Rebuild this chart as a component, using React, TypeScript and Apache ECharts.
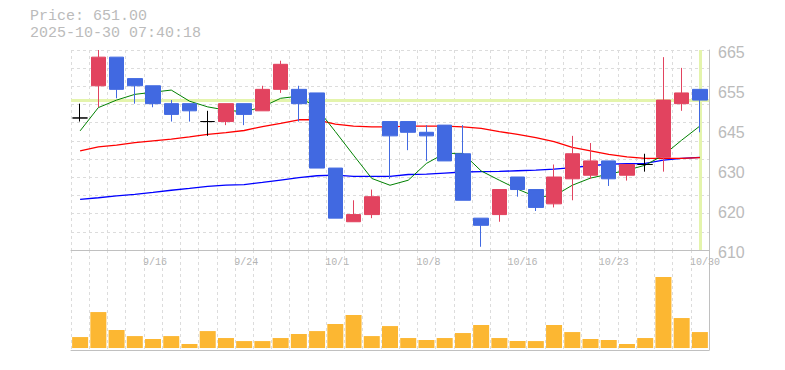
import React, { useEffect, useRef } from "react";
import * as echarts from "echarts";

const dates = ["9/9","9/10","9/11","9/12","9/16","9/17","9/18","9/19","9/22","9/24","9/25","9/26","9/29","9/30","10/1","10/2","10/3","10/6","10/7","10/8","10/9","10/10","10/14","10/15","10/16","10/17","10/20","10/21","10/22","10/23","10/24","10/27","10/28","10/29","10/30"];
const shownDates = ["9/16","9/24","10/1","10/8","10/16","10/23","10/30"];

const opens  = [646,655,663,657,655,650,650,645,645,650,648,654,654,653,632,617,619,645,645,642,644,636,618,619,629.5,626,622,629,630,634,630,633,635,650,654];
const closes = [646,663,654,655,650,647,648,645,650,647,654,661,650,632,618,619,624,641,642,641,634,623,616,626,626,621,629.5,636,634,629,633,633,651,653,651];
const lows   = [645,649,651.5,650,649,645,645,641,644,644,648,653,645,632,618,617,618,629,637,634,634,623,610,617,624,620,621,623,629,627,628.5,631,631,648,642];
const highs  = [650,665,663,657,655,651,650,648,650,650,655,662,655,653,632,623,626,645,645,644,644,644,618,626,629.5,626,633,641,639,634,633,636,663,660,654];

const ma5  = [642.4,648.9,651.0,652.6,653.2,653.8,650.7,649.1,648.2,647.7,649.1,651.5,652.1,648.7,642.2,635.6,629.1,627.2,628.6,633.3,636.1,636.1,631.2,628.6,626.1,624.0,624.2,627.2,629.2,630.3,631.4,632.8,635.6,639.8,643.75];
const ma25 = [636.8,637.9,638.4,639.1,639.6,640.1,640.7,641.4,641.9,642.5,643.6,644.5,645.5,645.5,644.3,643.75,643.5,643.5,643.7,643.7,643.7,643.5,643.1,642.2,641.4,640.5,639.4,637.8,636.8,635.8,635.1,634.7,634.7,634.7,634.9];
const ma75 = [623.25,623.7,624.2,624.65,625.2,625.8,626.3,626.9,627.25,627.4,628.0,628.65,629.3,629.85,630.0,629.7,629.7,629.7,630.2,630.3,630.6,630.9,631.0,631.1,631.25,631.4,631.7,632.1,632.65,633.1,633.2,633.3,634.2,634.7,635.0];

const volumes = [112,367,184,122,92,122,41,173,102,71,71,102,143,173,245,337,122,224,102,82,102,153,235,102,71,71,235,163,92,82,41,102,724,306,163];

const yTickLabels = ["610","620","630","645","655","665"];
const currentPrice = 651;
const currentDate = "10/30";
const titleLine1 = "Price: 651.00";
const titleLine2 = "2025-10-30 07:40:18";

const GRAY = "#c0c0c0";
const DASH = "#dcdcdc";

export default function App() {
  const ref = useRef<HTMLDivElement>(null);
  useEffect(() => {
    if (!ref.current) return;
    const chart = echarts.init(ref.current, null, { renderer: "svg" });
    const candleData = dates.map((_, i) => [opens[i], closes[i], lows[i], highs[i]]);
    const dashed = { show: true, interval: 0, lineStyle: { color: DASH, type: [3, 3] as any, width: 1 } };
    const monoTitle = { fontFamily: "Liberation Mono", fontSize: 15, fontWeight: "normal", color: "#bbb", lineHeight: 15 };
    chart.setOption({
      animation: false,
      title: {
        text: titleLine1,
        subtext: titleLine2,
        itemGap: 2,
        left: 30,
        top: 9,
        padding: 0,
        textStyle: monoTitle,
        subtextStyle: monoTitle,
      },
      grid: [
        { left: 71, width: 638, top: 50, height: 200 },
        { left: 71, width: 638, top: 250, height: 100 },
      ],
      xAxis: [
        {
          type: "category", gridIndex: 0, data: dates, boundaryGap: true,
          axisLine: { show: true, onZero: false, lineStyle: { color: GRAY, width: 1 } },
          axisTick: { show: false },
          splitLine: dashed,
          axisLabel: {
            show: true,
            interval: (index: number, value: string) => shownDates.indexOf(value) >= 0,
            align: "left",
            padding: [0, 0, 0, -10],
            margin: 6,
            fontFamily: "Liberation Mono",
            fontSize: 10,
            lineHeight: 12,
            color: "#b4b4b4",
          },
        },
        {
          type: "category", gridIndex: 1, data: dates, boundaryGap: true,
          axisLine: { show: true, onZero: false, lineStyle: { color: GRAY, width: 1 } },
          axisTick: { show: false },
          axisLabel: { show: false },
          splitLine: dashed,
        },
      ],
      yAxis: [
        { type: "value", gridIndex: 0, min: 609.1, max: 665, show: false, position: "left" },
        {
          type: "value", gridIndex: 0, min: 0, max: 11, interval: 1, position: "left",
          axisLine: { show: false }, axisTick: { show: false }, axisLabel: { show: false },
          splitLine: { show: true, lineStyle: { color: DASH, type: [3, 3] as any, width: 1 } },
        },
        {
          type: "value", gridIndex: 0, min: 0, max: 5, interval: 1, position: "right",
          axisLine: { show: true, lineStyle: { color: GRAY, width: 1 } },
          axisTick: { show: false },
          splitLine: { show: false },
          axisLabel: {
            show: true,
            formatter: (v: number) => yTickLabels[Math.round(v)] ?? "",
            margin: 9,
            fontFamily: "Liberation Sans",
            fontSize: 16,
            color: "#bbb",
            verticalAlign: "top",
            lineHeight: 15,
            padding: [-5, 0, 0, 0],
          },
        },
        {
          type: "value", gridIndex: 1, min: -20, max: 1000, position: "right",
          axisLine: { show: true, lineStyle: { color: GRAY, width: 1 } },
          axisTick: { show: false }, axisLabel: { show: false }, splitLine: { show: false },
        },
      ],
      series: [
        { type: "line", name: "MA75", xAxisIndex: 0, yAxisIndex: 0, data: ma75, symbol: "none", lineStyle: { color: "#0000ff", width: 1.3 }, z: 2 },
        { type: "line", name: "MA25", xAxisIndex: 0, yAxisIndex: 0, data: ma25, symbol: "none", lineStyle: { color: "#ff0000", width: 1.3 }, z: 2 },
        { type: "line", name: "MA5", xAxisIndex: 0, yAxisIndex: 0, data: ma5, symbol: "none", lineStyle: { color: "#008000", width: 1 }, z: 2 },
        {
          type: "candlestick", name: "Price", xAxisIndex: 0, yAxisIndex: 0, data: candleData,
          barWidth: 15, z: 3,
          itemStyle: {
            color: "#E2435F", borderColor: "#E2435F",
            color0: "#4169E1", borderColor0: "#4169E1",
            borderColorDoji: "#000000",
            borderWidth: 1,
          },
          markLine: {
            z: 1, silent: true, symbol: "none",
            label: { show: false },
            lineStyle: { color: "#e4f4ac", width: 3, type: "solid" },
            data: [{ yAxis: currentPrice }, { xAxis: currentDate }],
          },
        },
        {
          type: "bar", name: "Volume", xAxisIndex: 1, yAxisIndex: 3, data: volumes,
          barWidth: 16, itemStyle: { color: "#FCB732" },
        },
      ],
    });
    return () => chart.dispose();
  }, []);
  return <div ref={ref} style={{ position: "absolute", left: 0, top: 0, width: 785, height: 370 }} />;
}
